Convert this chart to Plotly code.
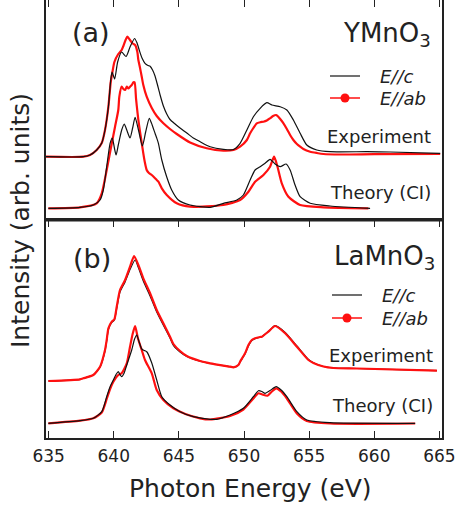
import plotly.graph_objects as go

# ---------------- data (photon energy in eV, intensity in arb. units incl. vertical offset) -------------
YMO_EXP_C = [(634.8,63.3),(637.67,63.3),(638.18,65),(638.69,70),(639.08,77),(639.33,90),(639.59,113.3),
             (639.77,140),(639.87,148),(640.07,141),(640.3,158),(640.6,168),(640.95,163.5),(641.25,173),
             (641.6,181.5),(641.79,177),(641.98,169),(642.17,162),(642.4,156.7),(642.63,154.5),(642.79,153.8),
             (642.98,150),(643.17,144),(643.36,135),(643.56,125),(643.81,114),(644.07,106),(644.32,100.5),
             (644.71,96),(645.09,92),(645.61,87),(646.11,82),(646.63,78.3),(647.4,73.3),(648.42,70.7),
             (649.19,70.5),(649.7,76.7),(650.22,90),(650.72,103.3),(651.24,111.7),(651.75,117.3),(652.14,115),
             (652.78,113.3),(653.29,110),(653.79,100),(654.31,86.7),(654.82,75),(655.59,70),(656.61,68.3),
             (659.45,68.3),(661.22,68),(665.06,66.7)]
YMO_EXP_AB = [(634.8,63.3),(637.67,63.3),(638.18,65),(638.69,70),(639.08,77),(639.33,90),(639.59,113.3),
              (639.77,138),(639.9,148),(640.05,158),(640.35,166),(640.61,170),(640.74,174),(640.91,180),
              (641.04,183.3),(641.25,180),(641.43,176.7),(641.64,175),(641.81,168.3),(641.89,160),(642.02,152),
              (642.15,143.3),(642.27,135),(642.53,123.3),(642.92,112),(643.3,104),(643.81,96.7),(644.32,91),
              (644.84,86),(645.86,77.5),(647.14,71.7),(648.42,69.3),(649.19,70),(649.7,73.3),(650.22,80),
              (650.47,86.7),(650.72,92),(650.98,96.7),(651.24,97.8),(651.49,98.3),(651.75,99.5),(652.0,101.7),
              (652.23,104),(652.47,105),(652.65,103),(652.78,101),(653.03,96.7),(653.29,91),(653.54,85),
              (653.79,80),(654.06,76),(654.31,73.3),(654.56,71),(655.08,68.3),(655.59,67),(656.1,66),
              (657.38,65.5),(660.0,65.8),(665.06,66)]
YMO_TH_C = [(634.98,11.7),(637.41,12.7),(638.43,15),(638.95,20),(639.2,30),(639.46,53.3),(639.72,76.7),
            (639.89,82),(640.05,72),(640.18,65),(640.35,75),(640.61,90),(640.81,96),(641.0,90),(641.25,82),
            (641.45,92),(641.64,102.7),(641.9,90),(642.2,74),(642.45,88),(642.73,101.7),(642.95,95),
            (643.17,86.7),(643.3,82),(643.43,76.7),(643.69,60),(644.07,43),(644.45,30),(644.96,20),
            (645.86,15),(647.4,12.7),(648.42,16.7),(649.45,20),(649.95,25),(650.47,40),(650.85,50),
            (651.24,53.3),(651.62,56.7),(652.0,60.7),(652.39,56),(652.78,53.3),(653.23,56),(653.54,50),
            (653.92,35),(654.31,23.3),(655.08,16.7),(656.61,14),(659.68,11.7)]
YMO_TH_AB = [(634.98,11.7),(637.41,12.7),(638.69,16.7),(639.08,26.7),(639.46,50),(639.85,76.7),(640.1,93.3),
             (640.35,110),(640.43,123.3),(640.61,133.3),(640.74,131),(640.87,130),(641.0,133.3),(641.12,131.5),
             (641.25,133.3),(641.38,135),(641.51,137.7),(641.6,137.7),(641.71,121.7),(641.77,114),(641.89,100),
             (642.02,88),(642.15,77),(642.27,66.7),(642.4,57),(642.53,50),(642.7,47),(642.92,45),(643.3,40),
             (643.43,38.3),(643.69,31.7),(644.07,25),(644.84,16.7),(645.86,13.3),(648.42,15),(649.7,20),
             (650.34,28.3),(650.85,38.3),(651.49,45),(652.0,53.3),(652.31,63.3),(652.57,53.3),(652.9,36.7),
             (653.41,23.3),(654.31,15),(656.1,12.7),(659.55,11.7)]

LMO_EXP_C = [(634.98,57),(637.41,58.7),(637.67,59.7),(638.43,63),(638.95,71),(639.33,87),(639.46,97),
             (639.59,108.5),(639.85,115.5),(640.05,118),(640.23,129.5),(640.48,146),(640.87,156),(641.25,168.5),
             (641.64,178),(641.89,170.5),(642.27,157),(642.79,142),(643.3,126),(643.94,109.5),(644.32,100),
             (644.58,92.5),(645.09,86),(645.61,81.5),(646.63,76.8),(647.4,74.5),(648.93,71.3),(649.19,70.7),
             (649.57,73),(649.7,76),(650.08,84),(650.34,92),(650.6,97.5),(650.85,99.3),(651.24,100.8),
             (651.37,101.3),(651.87,106.5),(652.39,112.3),(653.16,105.5),(654.06,92),(654.95,78.5),
             (655.33,75.3),(656.1,71.5),(656.87,70),(658.66,69.5),(664.81,67.3)]
LMO_EXP_AB = [(634.98,57),(637.41,58.7),(637.67,59.7),(638.43,63),(638.95,71.3),(639.33,88),(639.46,98),
              (639.59,109.7),(639.85,116.3),(640.05,118.7),(640.23,131.3),(640.48,148),(640.87,158),
              (641.25,171.3),(641.56,182),(641.89,173),(642.27,159.7),(642.79,144.7),(643.3,128),(643.94,111.3),
              (644.32,101.3),(644.58,94),(645.09,87),(645.61,82),(646.63,77),(647.4,74.7),(648.93,71.3),
              (649.19,70.7),(649.57,73),(649.7,76.3),(650.08,84.7),(650.34,93),(650.6,98),(650.85,99.7),
              (651.24,101),(651.37,101.3),(651.87,106.3),(652.39,112),(653.16,104.7),(654.06,91.3),(654.95,78),
              (655.33,75),(656.1,71.5),(656.87,70),(658.66,69.5),(664.81,67.3)]
LMO_TH_C = [(634.98,14.7),(637.41,17.3),(638.43,19.7),(639.08,26.3),(639.46,41.3),(639.72,51.3),(639.97,58),
            (640.2,64),(640.35,66.3),(640.5,63),(640.61,61.3),(640.8,65),(641.0,73),(641.38,88),(641.6,99),
            (641.77,103),(641.95,96),(642.15,89),(642.35,87.5),(642.55,86),(642.92,75),(643.3,58),(643.69,41.3),
            (644.32,33),(645.09,26.3),(646.11,21.3),(647.4,18.7),(647.91,18.7),(648.93,23),(649.95,29.7),
            (650.72,41.3),(651.11,47.3),(651.37,46.5),(651.62,44.7),(652.0,47.5),(652.47,51.3),(652.85,48),
            (653.29,41.3),(654.06,26.3),(654.82,18),(656.61,15.3),(663.14,14.7)]
LMO_TH_AB = [(634.98,14.7),(637.41,17.3),(638.43,19.7),(639.08,25.5),(639.46,39),(639.72,49),(639.97,56.3),
             (640.35,63),(640.61,64.7),(641.0,74.7),(641.25,91.3),(641.45,104),(641.64,112),(641.85,100),
             (642.15,88),(642.4,78),(642.92,64.7),(643.3,48),(643.81,38),(644.58,29.7),(645.5,24),(646.63,19.7),
             (647.4,18.5),(648.93,22),(649.95,28.5),(650.72,39.5),(651.11,44.7),(651.4,43.5),(651.8,42.3),
             (652.1,46),(652.47,49.7),(652.85,46.5),(653.29,39.5),(654.06,24.5),(654.82,17),(656.61,14.5),
             (663.14,14.5)]

X_TICKS = [635, 640, 645, 650, 655, 660, 665]
SERIES_LABELS = ["E//c", "E//ab"]
COMPOUNDS = ["YMnO<sub>3</sub>", "LaMnO<sub>3</sub>"]
PANEL_TAGS = ["(a)", "(b)"]
CURVE_LABELS = ["Experiment", "Theory (CI)"]

# ---------------- style ----------------
FONT = "DejaVu Sans"
TXT = "#222222"
RED = "#ff1010"
BLK = "#111111"
W, H = 455, 511
ML, MR, MT, MB = 46, 13, 0, 73
PW, PH = W - ML - MR, H - MT - MB
SPLIT = (PH - 220) / PH

def px(xp):
    return (xp - ML) / PW

def py(yp):
    return (PH - yp) / PH

fig = go.Figure()

def add(series, color, width, xa, ya):
    fig.add_trace(go.Scatter(
        x=[p[0] for p in series], y=[p[1] for p in series], mode="lines",
        line=dict(color=color, width=width, shape="spline", smoothing=0.6),
        xaxis=xa, yaxis=ya, showlegend=False, hoverinfo="skip"))

# panel (a)
add(YMO_EXP_AB, RED, 2.2, "x", "y")
add(YMO_EXP_C, BLK, 1.2, "x", "y")
add(YMO_TH_AB, RED, 2.2, "x", "y")
add(YMO_TH_C, BLK, 1.2, "x", "y")
# panel (b)
add(LMO_EXP_C, BLK, 1.2, "x2", "y2")
add(LMO_EXP_AB, RED, 2.2, "x2", "y2")
add(LMO_TH_AB, RED, 2.2, "x2", "y2")
add(LMO_TH_C, BLK, 1.2, "x2", "y2")

axis_common = dict(range=[634.8, 665.2], tickvals=X_TICKS, ticks="inside", ticklen=7, tickwidth=1.3,
                   tickcolor=TXT, showgrid=False, zeroline=False, linecolor=TXT, linewidth=1.6)
fig.update_layout(
    width=W, height=H, margin=dict(l=ML, r=MR, t=MT, b=MB),
    paper_bgcolor="white", plot_bgcolor="white",
    font=dict(family=FONT, color=TXT, size=17),
    xaxis=dict(axis_common, domain=[0, 1], anchor="y", side="top", showline=False, showticklabels=False),
    yaxis=dict(domain=[SPLIT, 1], anchor="x", range=[0, 220], showticklabels=False, ticks="",
               showgrid=False, zeroline=False, showline=True, mirror=True, linecolor=TXT, linewidth=1.6),
    xaxis2=dict(axis_common, domain=[0, 1], anchor="y2", side="bottom", showline=True, mirror="ticks",
                ticklabelstandoff=2, ticklabeloverflow="allow",
                tickfont=dict(size=17, family=FONT, color=TXT)),
    yaxis2=dict(domain=[0, SPLIT], anchor="x2", range=[0, 218], showticklabels=False, ticks="",
                showgrid=False, zeroline=False, showline=True, mirror=True, linecolor=TXT, linewidth=1.6),
)

ann = []
def text(s, xp, yp, size, xanchor="center", angle=0):
    ann.append(dict(text=s, x=px(xp), y=py(yp), xref="paper", yref="paper", showarrow=False,
                    xanchor=xanchor, yanchor="middle", textangle=angle,
                    font=dict(family=FONT, size=size, color=TXT)))

shapes = [dict(type="line", xref="paper", yref="paper", x0=0, x1=1, y0=SPLIT, y1=SPLIT,
               line=dict(color=TXT, width=3))]

panel_geo = [
    dict(tag=(91, 32), comp=(433, 34), leg=(76, 98), lx=(330, 360), tx=378, lab_r=433, lab_y=(137, 192)),
    dict(tag=(92, 258), comp=(437, 257), leg=(295, 318), lx=(332, 362), tx=380, lab_r=435, lab_y=(355, 405)),
]
for i, g in enumerate(panel_geo):
    text(PANEL_TAGS[i], g["tag"][0], g["tag"][1], 27)
    text(COMPOUNDS[i], g["comp"][0], g["comp"][1], 26, xanchor="right")
    for j, lab in enumerate(SERIES_LABELS):
        text("<i>%s</i>" % lab, g["tx"], g["leg"][j], 18, xanchor="left")
    shapes.append(dict(type="line", xref="paper", yref="paper", x0=px(g["lx"][0]), x1=px(g["lx"][1]),
                       y0=py(g["leg"][0]), y1=py(g["leg"][0]), line=dict(color=BLK, width=1.2)))
    shapes.append(dict(type="line", xref="paper", yref="paper", x0=px(g["lx"][0]), x1=px(g["lx"][1]),
                       y0=py(g["leg"][1]), y1=py(g["leg"][1]), line=dict(color=RED, width=1.5)))
    cx = px((g["lx"][0] + g["lx"][1]) / 2)
    shapes.append(dict(type="circle", xref="paper", yref="paper", xsizemode="pixel", ysizemode="pixel",
                       xanchor=cx, yanchor=py(g["leg"][1]), x0=-4.5, x1=4.5, y0=-4.5, y1=4.5,
                       fillcolor=RED, line=dict(color=RED, width=0)))
    for j, lab in enumerate(CURVE_LABELS):
        text(lab, g["lab_r"], g["lab_y"][j], 18, xanchor="right")

text("Photon Energy (eV)", 250, 488, 25)
text("Intensity (arb. units)", 21, 221, 25, angle=-90)

fig.update_layout(annotations=ann, shapes=shapes)
fig.write_html("out.html", config={"displayModeBar": False},
               post_script="document.body.style.margin='0';document.body.style.padding='0';")
